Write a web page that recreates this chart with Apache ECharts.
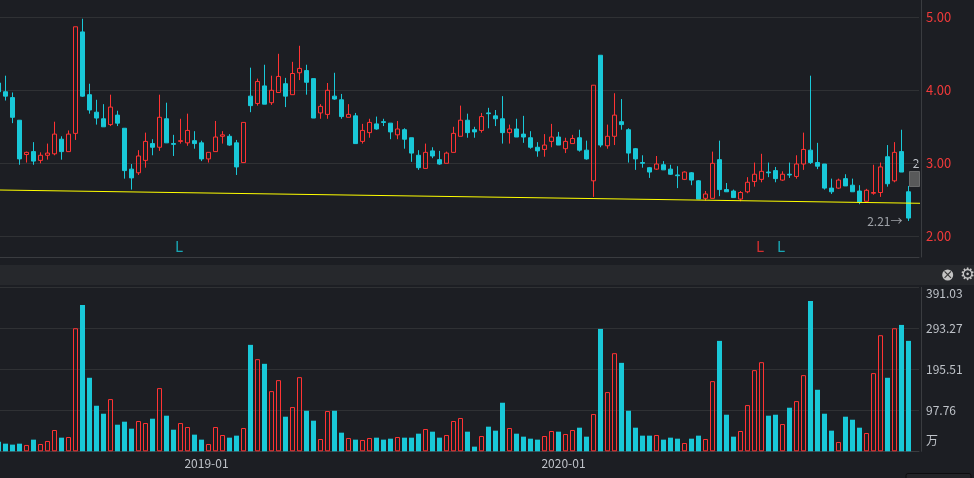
<!DOCTYPE html>
<html>
<head>
<meta charset="utf-8">
<style>
  html, body { margin: 0; padding: 0; background: #1c1e23; }
  #chart { width: 974px; height: 478px; }
</style>
<script src="https://cdn.jsdelivr.net/npm/echarts@6/dist/echarts.min.js"></script>
</head>
<body>
<div id="chart"></div>
<script>
const dates = [
  "2018-06-08","2018-06-15","2018-06-22","2018-06-29","2018-07-06","2018-07-13","2018-07-20","2018-07-27","2018-08-03","2018-08-10",
  "2018-08-17","2018-08-24","2018-08-31","2018-09-07","2018-09-14","2018-09-21","2018-09-28","2018-10-05","2018-10-12","2018-10-19",
  "2018-10-26","2018-11-02","2018-11-09","2018-11-16","2018-11-23","2018-11-30","2018-12-07","2018-12-14","2018-12-21","2018-12-28",
  "2019-01-04","2019-01-11","2019-01-18","2019-01-25","2019-02-01","2019-02-15","2019-02-22","2019-03-01","2019-03-08","2019-03-15",
  "2019-03-22","2019-03-29","2019-04-05","2019-04-12","2019-04-19","2019-04-26","2019-05-03","2019-05-10","2019-05-17","2019-05-24",
  "2019-05-31","2019-06-07","2019-06-14","2019-06-21","2019-06-28","2019-07-05","2019-07-12","2019-07-19","2019-07-26","2019-08-02",
  "2019-08-09","2019-08-16","2019-08-23","2019-08-30","2019-09-06","2019-09-13","2019-09-20","2019-09-27","2019-10-04","2019-10-11",
  "2019-10-18","2019-10-25","2019-11-01","2019-11-08","2019-11-15","2019-11-22","2019-11-29","2019-12-06","2019-12-13","2019-12-20",
  "2019-12-27","2020-01-03","2020-01-10","2020-01-17","2020-01-23","2020-02-07","2020-02-14","2020-02-21","2020-02-28","2020-03-06",
  "2020-03-13","2020-03-20","2020-03-27","2020-04-03","2020-04-10","2020-04-17","2020-04-24","2020-04-30","2020-05-08","2020-05-15",
  "2020-05-22","2020-05-29","2020-06-05","2020-06-12","2020-06-19","2020-06-24","2020-07-03","2020-07-10","2020-07-17","2020-07-24",
  "2020-07-31","2020-08-07","2020-08-14","2020-08-21","2020-08-28","2020-09-04","2020-09-11","2020-09-18","2020-09-25","2020-09-30",
  "2020-10-09","2020-10-16","2020-10-23","2020-10-30","2020-11-06","2020-11-13","2020-11-20","2020-11-27","2020-12-04","2020-12-11",
  "2020-12-18",""
];

const opens = [
  4.10,3.98,3.90,3.59,3.12,3.16,3.04,3.11,3.13,3.33,3.16,3.41,4.80,3.94,3.70,3.61,3.53,3.66,3.48,2.92,
  2.87,3.04,3.27,3.22,3.61,3.27,3.30,3.28,3.31,3.28,3.06,3.16,3.37,3.37,3.28,3.01,3.92,3.82,4.06,3.83,
  3.97,4.09,3.94,4.24,4.27,4.16,3.69,3.67,3.92,3.87,3.63,3.65,3.30,3.42,3.54,3.57,3.55,3.39,3.46,3.35,
  3.11,2.93,3.17,3.05,3.00,3.15,3.37,3.59,3.46,3.45,3.69,3.65,3.61,3.42,3.47,3.40,3.35,3.22,3.19,3.30,
  3.36,3.20,3.27,3.35,3.18,2.76,4.48,3.24,3.37,3.57,3.46,3.20,3.01,2.94,2.92,2.98,2.92,2.84,2.78,2.87,
  2.76,2.52,2.52,3.05,2.64,2.62,2.51,2.61,2.75,2.78,2.88,2.90,2.77,2.85,2.82,2.99,3.18,3.01,2.99,2.66,
  2.66,2.79,2.70,2.62,2.48,2.59,2.60,3.09,2.76,3.16,2.61
];
const closes = [
  3.98,3.92,3.63,3.06,3.15,3.03,3.11,3.14,3.40,3.16,3.40,4.87,3.92,3.73,3.62,3.50,3.77,3.55,2.90,2.80,
  3.10,3.30,3.22,3.63,3.28,3.26,3.31,3.45,3.27,3.06,3.15,3.36,3.39,3.25,2.95,3.56,3.79,4.12,3.81,4.00,
  4.19,3.92,4.23,4.30,4.11,3.62,3.78,4.00,3.88,3.64,3.67,3.27,3.45,3.56,3.47,3.56,3.43,3.47,3.33,3.14,
  2.94,3.15,3.10,2.99,3.14,3.41,3.59,3.42,3.43,3.64,3.68,3.61,3.42,3.47,3.36,3.36,3.22,3.17,3.25,3.36,
  3.25,3.30,3.34,3.18,3.06,4.07,3.25,3.37,3.66,3.53,3.14,3.06,3.00,2.88,2.99,2.91,2.85,2.83,2.88,2.77,
  2.51,2.58,3.00,2.64,2.61,2.53,2.60,2.74,2.85,2.89,2.87,2.79,2.85,2.84,2.99,3.19,3.01,2.96,2.66,2.61,
  2.77,2.69,2.61,2.47,2.63,2.60,2.95,2.72,3.15,2.88,2.25
];
const lows = [
  3.98,3.86,3.55,2.98,3.01,2.98,3.00,3.05,3.11,3.05,3.16,3.32,3.91,3.68,3.53,3.50,3.51,3.51,2.79,2.64,
  2.84,2.94,3.11,3.17,3.28,3.10,3.27,3.24,3.20,3.03,3.01,3.16,3.27,3.24,2.84,3.01,3.70,3.79,3.81,3.80,
  3.97,3.77,3.94,4.14,3.94,3.62,3.61,3.61,3.87,3.61,3.63,3.27,3.27,3.35,3.46,3.51,3.33,3.33,3.20,3.02,
  2.91,2.93,3.07,2.98,3.00,3.15,3.37,3.35,3.35,3.42,3.48,3.51,3.27,3.27,3.36,3.28,3.20,3.09,3.09,3.22,
  3.25,3.14,3.27,3.16,3.05,2.54,3.22,3.20,3.25,3.46,3.01,2.91,2.94,2.80,2.91,2.91,2.84,2.66,2.77,2.70,
  2.51,2.49,2.52,2.55,2.61,2.53,2.48,2.59,2.68,2.74,2.81,2.74,2.76,2.80,2.79,2.91,2.99,2.92,2.64,2.58,
  2.65,2.69,2.61,2.44,2.48,2.57,2.54,2.68,2.74,2.88,2.21
];
const highs = [
  4.10,4.20,3.97,3.59,3.16,3.29,3.15,3.27,3.57,3.37,3.45,4.87,4.98,4.09,3.87,3.81,3.94,3.72,3.48,2.99,
  3.18,3.42,3.33,3.94,3.83,3.39,3.61,3.68,3.44,3.31,3.15,3.58,3.44,3.40,3.32,3.56,4.31,4.16,4.35,4.20,
  4.50,4.17,4.39,4.61,4.35,4.16,3.81,4.10,4.24,3.95,3.81,3.69,3.54,3.61,3.64,3.61,3.55,3.58,3.48,3.35,
  3.18,3.27,3.22,3.17,3.16,3.50,3.79,3.68,3.50,3.69,3.76,3.73,3.92,3.53,3.61,3.65,3.44,3.29,3.40,3.54,
  3.43,3.35,3.39,3.46,3.31,4.07,4.48,3.53,3.96,3.88,3.48,3.21,3.11,2.95,3.10,3.03,2.98,2.96,2.89,2.88,
  2.77,2.62,3.16,3.31,2.73,2.64,2.62,2.81,3.01,3.13,3.01,2.95,2.89,3.01,3.11,3.42,4.20,3.28,2.99,2.79,
  2.79,2.85,2.79,2.70,2.65,2.98,3.01,3.25,3.29,3.46,2.69
];
const volumes = [
  23,18.2,15.9,18.2,15.1,27.8,17.4,24.6,50.8,32.5,34.1,293.4,349,175.3,108.6,89.6,124.5,63.4,70.6,53.9,
  72.2,67.4,77.7,150.7,84.9,51.5,67.4,57.9,39.7,27.8,17.4,57.9,38.9,32.5,37.3,55.5,253.8,219.7,208.6,143.5,
  169.7,82.5,105.5,176.8,96.7,73,29.3,96,96.7,44.4,31.7,27.8,27,31.7,32.5,27.8,30.1,34.1,32.5,32.5,
  42,53.1,46.8,32.5,38.9,72.2,79.3,46.8,11.1,36.5,58.7,49.2,115.8,55.5,42,34.9,30.1,27.8,36.5,48.4,
  46.8,41.2,50.8,56.3,34.9,88.8,291.8,141.2,233.9,210.9,96.7,56.3,37.3,37.3,38.9,27.8,32.5,30.1,19.8,30.1,
  37.3,29.3,167.3,263.3,87.2,34.9,48.4,110.2,193.5,212.5,84.9,87.2,65,103.9,119.7,181.6,358.4,146.7,89.6,49.2,
  22.2,82.5,75.3,56.3,43.6,186.4,276.8,175.3,293.4,301.3,263.3
];

const priceTicks = [2, 3, 4, 5];
const volumeMax = 391.03;
const volumeStep = 97.7575;
const monthTicks = [30, 81];

// 趋势线
const trendX = [-0.5, 131.8];
const trendY = [2.635, 2.452];

// 低点标记
const markerIndex = [26, 109, 112];
const markerColor = ["#19c8d8", "#ff3333", "#19c8d8"];
const markerPrice = 1.867;
const lowIndex = 130;
const lowPrice = 2.21;

const UP = "#ff3333";
const DOWN = "#19c8d8";
const GRID = "#2f3134";
const AXIS = "#3a3c40";
const LABEL = "#bfc3c9";
const FONT = '"Noto Sans CJK SC", "Noto Sans", sans-serif';

const candleData = opens.map((o, i) => [o, closes[i], lows[i], highs[i]]);
const upVolumes = volumes.map((v, i) => (closes[i] > opens[i] ? v : "-"));
const downVolumes = volumes.map((v, i) => (closes[i] > opens[i] ? "-" : v));

const chart = echarts.init(document.getElementById("chart"));
chart.setOption({
  animation: false,
  backgroundColor: "#1c1e23",
  textStyle: { fontFamily: FONT },
  grid: [
    { left: -5, top: 0, width: 924, height: 257, outerBoundsMode: "none" },
    { left: -5, top: 287.3, width: 924, height: 164, outerBoundsMode: "none" }
  ],
  xAxis: [
    {
      type: "category",
      gridIndex: 0,
      data: dates,
      axisLine: { onZero: false, lineStyle: { color: AXIS } },
      axisTick: { show: false },
      axisLabel: { show: false }
    },
    {
      type: "category",
      gridIndex: 1,
      data: dates,
      axisLine: { onZero: false, lineStyle: { color: AXIS } },
      axisTick: {
        alignWithLabel: true,
        length: 4,
        lineStyle: { color: "#f0f0f0" },
        interval: (i) => monthTicks.includes(i)
      },
      axisLabel: {
        interval: (i) => monthTicks.includes(i),
        formatter: (v) => v.slice(0, 7),
        color: LABEL,
        fontSize: 12,
        margin: 6,
        padding: [0, 4, 0, 0]
      }
    },
    {
      type: "value",
      gridIndex: 0,
      min: -0.5,
      max: 131.5,
      show: false,
      splitLine: { show: false },
      axisLine: { show: false }
    }
  ],
  yAxis: [
    {
      type: "value",
      gridIndex: 0,
      position: "right",
      offset: 2,
      min: 1.7164,
      max: 5.237,
      axisLine: { show: true, onZero: false, lineStyle: { color: AXIS } },
      axisTick: { show: false, customValues: priceTicks },
      splitLine: { show: true, lineStyle: { color: GRID }, customValues: priceTicks },
      axisLabel: {
        customValues: priceTicks,
        formatter: (v) => v.toFixed(2),
        color: "#f03a3a",
        fontSize: 13,
        margin: 5
      }
    },
    {
      type: "value",
      gridIndex: 1,
      position: "right",
      offset: 2,
      min: 0,
      max: volumeMax,
      interval: volumeStep,
      axisLine: { show: true, onZero: false, lineStyle: { color: AXIS } },
      axisTick: { show: false },
      splitLine: { show: true, lineStyle: { color: GRID } },
      axisLabel: {
        formatter: (v) => (v === 0 ? "{unit|万}" : v.toFixed(2)),
        color: LABEL,
        fontSize: 12,
        margin: 5,
        verticalAlignMaxLabel: "top",
        verticalAlignMinLabel: "bottom",
        rich: { unit: { color: LABEL, fontSize: 12, padding: [0, 0, 5, 0] } }
      }
    }
  ],
  series: [
    {
      type: "candlestick",
      xAxisIndex: 0,
      yAxisIndex: 0,
      barWidth: 4,
      data: candleData,
      itemStyle: {
        color: "transparent",
        color0: DOWN,
        borderColor: UP,
        borderColor0: DOWN,
        borderWidth: 1
      }
    },
    {
      type: "bar",
      xAxisIndex: 1,
      yAxisIndex: 1,
      barWidth: 5,
      barGap: "-100%",
      data: upVolumes,
      itemStyle: { color: "transparent", borderColor: UP, borderWidth: 1 }
    },
    {
      type: "bar",
      xAxisIndex: 1,
      yAxisIndex: 1,
      barWidth: 5,
      barGap: "-100%",
      data: downVolumes,
      itemStyle: { color: DOWN }
    },
    {
      type: "line",
      xAxisIndex: 2,
      yAxisIndex: 0,
      data: trendX.map((x, i) => [x, trendY[i]]),
      showSymbol: false,
      clip: false,
      lineStyle: { color: "#ffff00", width: 1 }
    },
    {
      type: "scatter",
      xAxisIndex: 0,
      yAxisIndex: 0,
      symbolSize: 0,
      data: markerIndex.map((x, i) => ({
        value: [x, markerPrice],
        label: { color: markerColor[i] }
      })),
      label: {
        show: true,
        position: "inside",
        offset: [-1.5, 0],
        formatter: "L",
        fontSize: 15
      }
    },
    {
      type: "scatter",
      xAxisIndex: 0,
      yAxisIndex: 0,
      symbolSize: 0,
      data: [[lowIndex, lowPrice]],
      label: {
        show: true,
        position: "left",
        distance: 6,
        formatter: lowPrice.toFixed(2) + "→",
        color: LABEL,
        fontSize: 12
      }
    }
  ],
  graphic: [
    { type: "rect", shape: { x: 0, y: 265, width: 974, height: 20 }, style: { fill: "#26282c" } },
    { type: "circle", shape: { cx: 947.7, cy: 275, r: 5.5 }, style: { fill: "#c4c4c4" } },
    {
      type: "text", x: 947.7, y: 275,
      style: { text: "×", fill: "#3a3a3a", fontSize: 11, fontWeight: "bold", align: "center", verticalAlign: "middle", fontFamily: FONT }
    },
    {
      type: "text", x: 967.7, y: 276,
      style: { text: "⚙", fill: "#c4c4c4", fontSize: 17, align: "center", verticalAlign: "middle", fontFamily: "DejaVu Sans" }
    },
    { type: "rect", shape: { x: 909.5, y: 171.5, width: 10, height: 15 }, style: { fill: "#58595a", stroke: "#6a6b6c", lineWidth: 1 } },
    {
      type: "text", x: 916, y: 163,
      style: { text: "2", fill: LABEL, fontSize: 12, align: "center", verticalAlign: "middle", fontFamily: FONT }
    },
    { type: "rect", shape: { x: 906, y: 473.5, width: 65, height: 8, r: 2 }, style: { fill: "#222327", stroke: "#0c0c0e", lineWidth: 1 } }
  ]
});
</script>
</body>
</html>
